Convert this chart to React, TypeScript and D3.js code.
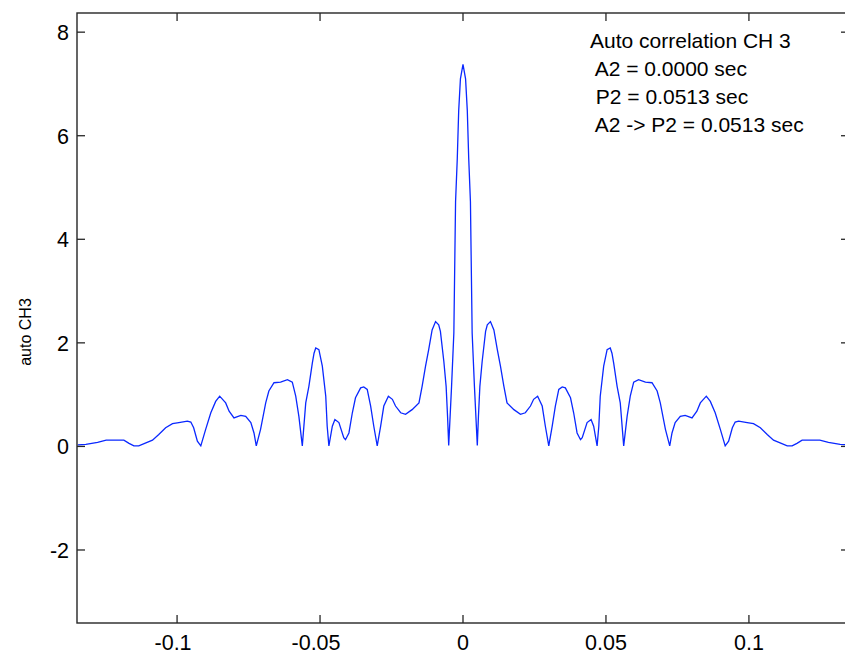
import React from "react";
import * as d3 from "d3";

// Lag (seconds) and autocorrelation values
const lag: number[] = [
  -0.1347, -0.1319, -0.1278, -0.1248, -0.1186, -0.1168, -0.1151, -0.1134, -0.1109, -0.1086,
  -0.1064, -0.104, -0.1016, -0.0994, -0.0964, -0.0952, -0.0942, -0.0929, -0.0917, -0.09,
  -0.0882, -0.0865, -0.0851, -0.083, -0.0818, -0.0801, -0.0777, -0.076, -0.0742, -0.0731,
  -0.0723, -0.0708, -0.069, -0.0679, -0.0661, -0.0638, -0.0614, -0.0597, -0.0585, -0.0574,
  -0.0562, -0.055, -0.0539, -0.0527, -0.0521, -0.0515, -0.0504, -0.0492, -0.048, -0.0475,
  -0.0469, -0.0457, -0.0448, -0.0434, -0.0417, -0.0411, -0.0399, -0.0387, -0.0376, -0.0358,
  -0.0347, -0.0335, -0.0323, -0.0312, -0.03, -0.0288, -0.0277, -0.0261, -0.0247, -0.0236,
  -0.0218, -0.0201, -0.0178, -0.0154, -0.0143, -0.0131, -0.012, -0.0108, -0.0096, -0.0085,
  -0.0079, -0.0067, -0.0059, -0.0054, -0.005, -0.004, -0.0032, -0.0026, -0.002, -0.0015,
  -0.0009, 0,
  0.0009, 0.0015, 0.002, 0.0026, 0.0032, 0.004, 0.005, 0.0054, 0.0059, 0.0067,
  0.0079, 0.0085, 0.0096, 0.0108, 0.012, 0.0131, 0.0143, 0.0154, 0.0178, 0.0201,
  0.0218, 0.0236, 0.0247, 0.0261, 0.0277, 0.0288, 0.03, 0.0312, 0.0323, 0.0335,
  0.0347, 0.0358, 0.0376, 0.0387, 0.0399, 0.0411, 0.0417, 0.0434, 0.0448, 0.0457,
  0.0469, 0.0475, 0.048, 0.0492, 0.0504, 0.0515, 0.0521, 0.0527, 0.0539, 0.055,
  0.0562, 0.0574, 0.0585, 0.0597, 0.0614, 0.0638, 0.0661, 0.0679, 0.069, 0.0708,
  0.0723, 0.0731, 0.0742, 0.076, 0.0777, 0.0801, 0.0818, 0.083, 0.0851, 0.0865,
  0.0882, 0.09, 0.0917, 0.0929, 0.0942, 0.0952, 0.0964, 0.0994, 0.1016, 0.104,
  0.1064, 0.1086, 0.1109, 0.1134, 0.1151, 0.1168, 0.1186, 0.1248, 0.1278, 0.1319,
  0.1347,
];

const autoCH3: number[] = [
  0.03, 0.04, 0.08, 0.12, 0.12, 0.06, 0.01, 0.01, 0.07, 0.12,
  0.23, 0.36, 0.44, 0.46, 0.49, 0.47, 0.36, 0.1, 0.01, 0.33,
  0.65, 0.87, 0.97, 0.84, 0.68, 0.55, 0.6, 0.58, 0.46, 0.26,
  0.01, 0.33, 0.84, 1.07, 1.23, 1.24, 1.29, 1.24, 0.97, 0.58,
  0.01, 0.84, 1.16, 1.61, 1.8, 1.9, 1.87, 1.55, 0.97, 0.39,
  0.01, 0.39, 0.52, 0.46, 0.17, 0.13, 0.26, 0.65, 0.94, 1.13,
  1.15, 1.1, 0.78, 0.39, 0.01, 0.39, 0.78, 0.97, 0.91, 0.78,
  0.65, 0.62, 0.71, 0.84, 1.16, 1.55, 1.87, 2.25, 2.41, 2.35,
  2.22, 1.64, 1.16, 0.58, 0.02, 1.16, 2.19, 4.73, 5.56, 6.49,
  7.1, 7.38,
  7.1, 6.49, 5.56, 4.73, 2.19, 1.16, 0.02, 0.58, 1.16, 1.64,
  2.22, 2.35, 2.41, 2.25, 1.87, 1.55, 1.16, 0.84, 0.71, 0.62,
  0.65, 0.78, 0.91, 0.97, 0.78, 0.39, 0.01, 0.39, 0.78, 1.1,
  1.15, 1.13, 0.94, 0.65, 0.26, 0.13, 0.17, 0.46, 0.52, 0.39,
  0.01, 0.39, 0.97, 1.55, 1.87, 1.9, 1.8, 1.61, 1.16, 0.84,
  0.01, 0.58, 0.97, 1.24, 1.29, 1.24, 1.23, 1.07, 0.84, 0.33,
  0.01, 0.26, 0.46, 0.58, 0.6, 0.55, 0.68, 0.84, 0.97, 0.87,
  0.65, 0.33, 0.01, 0.1, 0.36, 0.47, 0.49, 0.46, 0.44, 0.36,
  0.23, 0.12, 0.07, 0.01, 0.01, 0.06, 0.12, 0.12, 0.08, 0.04,
  0.03,
];

const xTicks: number[] = [-0.1, -0.05, 0, 0.05, 0.1];
const xTickLabels: string[] = ["-0.1", "-0.05", "0", "0.05", "0.1"];
const yTicks: number[] = [-2, 0, 2, 4, 6, 8];
const yTickLabels: string[] = ["-2", "0", "2", "4", "6", "8"];
const xDomain: number[] = [-0.135, 0.135];
const yDomain: number[] = [-3.41, 8.37];

const yLabel = "auto CH3";
const annotation: string[] = [
  "Auto correlation CH 3",
  " A2 = 0.0000 sec",
  " P2 = 0.0513 sec",
  " A2 -> P2 = 0.0513 sec",
];

export default function App() {
  const W = 845;
  const H = 655;
  const left = 77;
  const right = 849;
  const top = 13;
  const bottom = 623;
  const x = d3.scaleLinear().domain(xDomain).range([left, right]);
  const y = d3.scaleLinear().domain(yDomain).range([bottom, top]);
  const pts = lag.map((l, i) => [l, autoCH3[i]] as [number, number]);
  const line = d3
    .line<[number, number]>()
    .x((d) => x(d[0]))
    .y((d) => y(d[1]));
  const axisColor = "#262626";
  const font = "'Liberation Sans', Arial, sans-serif";
  const tickLen = 8;

  return (
    <svg
      width={W}
      height={H}
      style={{ position: "absolute", left: 0, top: 0, background: "#fff" }}
    >
      <rect x={0} y={0} width={W} height={H} fill="#fff" />
      <defs>
        <clipPath id="plotclip">
          <rect x={left} y={top} width={right - left} height={bottom - top} />
        </clipPath>
      </defs>
      <path
        d={line(pts) || ""}
        fill="none"
        stroke="#0a28ff"
        strokeWidth={1.3}
        clipPath="url(#plotclip)"
      />
      <rect
        x={left}
        y={top}
        width={right - left}
        height={bottom - top}
        fill="none"
        stroke={axisColor}
        strokeWidth={1.4}
      />
      {xTicks.map((t, i) => (
        <g key={"xt" + i}>
          <line x1={x(t)} x2={x(t)} y1={bottom} y2={bottom - tickLen} stroke={axisColor} strokeWidth={1.3} />
          <line x1={x(t)} x2={x(t)} y1={top} y2={top + tickLen} stroke={axisColor} strokeWidth={1.3} />
          <text
            x={x(t) + (t < 0 ? -4 : 0)}
            y={650}
            textAnchor="middle"
            fontFamily={font}
            fontSize={21.5}
            fill="#000"
          >
            {xTickLabels[i]}
          </text>
        </g>
      ))}
      {yTicks.map((t, i) => (
        <g key={"yt" + i}>
          <line x1={left} x2={left + tickLen} y1={y(t)} y2={y(t)} stroke={axisColor} strokeWidth={1.3} />
          <line x1={right} x2={right - tickLen} y1={y(t)} y2={y(t)} stroke={axisColor} strokeWidth={1.3} />
          <text
            x={69}
            y={y(t) + 8}
            textAnchor="end"
            fontFamily={font}
            fontSize={21.5}
            fill="#000"
          >
            {yTickLabels[i]}
          </text>
        </g>
      ))}
      <text
        transform="translate(31,332) rotate(-90)"
        textAnchor="middle"
        fontFamily={font}
        fontSize={16}
        fill="#000"
      >
        {yLabel}
      </text>
      {annotation.map((s, i) => (
        <text
          key={"an" + i}
          x={590}
          y={48 + i * 28}
          fontFamily={font}
          fontSize={21}
          fill="#000"
          style={{ whiteSpace: "pre" }}
        >
          {s}
        </text>
      ))}
    </svg>
  );
}
